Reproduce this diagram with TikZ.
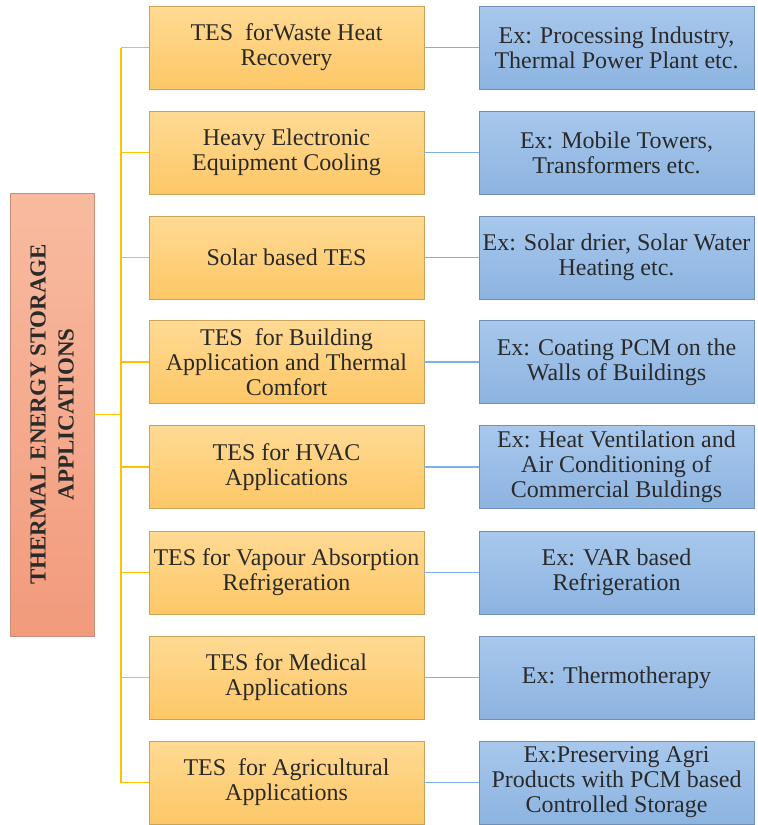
\documentclass[tikz,border=0pt]{standalone}
\usepackage{fontspec}
\setmainfont{Liberation Serif}
\newfontfamily\boxfont{Liberation Serif}
\usetikzlibrary{positioning}
\definecolor{orfillT}{HTML}{FFDA94}
\definecolor{orfillB}{HTML}{FDC766}
\definecolor{ordraw}{HTML}{C9A35A}
\definecolor{blfillT}{HTML}{A8C8EC}
\definecolor{blfillB}{HTML}{8CB3E0}
\definecolor{bldraw}{HTML}{6F8FB8}
\definecolor{rootT}{HTML}{F8BBA0}
\definecolor{rootB}{HTML}{F29A7C}
\definecolor{rootdraw}{HTML}{C8907A}
\definecolor{trunk}{HTML}{FFC000}
\definecolor{bline}{HTML}{7EB2E4}
\definecolor{txt}{HTML}{2A2A2A}
\tikzset{
  appbox/.style={rectangle, draw=ordraw, line width=0.8pt, top color=orfillT, bottom color=orfillB,
    minimum width=275pt, minimum height=83pt, inner sep=0pt, align=center,
    font=\boxfont\fontsize{24}{25}\selectfont, text=txt},
  exbox/.style={rectangle, draw=bldraw, line width=0.8pt, top color=blfillT, bottom color=blfillB,
    minimum width=275pt, minimum height=83pt, inner sep=0pt, align=center,
    font=\boxfont\fontsize{24}{25}\selectfont, text=txt},
  rootbox/.style={rectangle, draw=rootdraw, line width=0.8pt, top color=rootT, bottom color=rootB,
    minimum width=84pt, minimum height=443pt, inner sep=0pt},
  roottext/.style={rotate=90, align=center, font=\boxfont\bfseries\fontsize{23}{28}\selectfont, text=txt},
  ylink/.style={draw=trunk, line width=1.8pt},
  blink/.style={draw=bline, line width=1.8pt}
}
\begin{document}
\begin{tikzpicture}[x=1pt,y=-1pt]
\useasboundingbox (0,0) rectangle (758,825);
\node[rootbox] (root) at (52,414.5) {};
\node[roottext] (rootlabel) at (root.center) {THERMAL ENERGY STORAGE\\APPLICATIONS};
\coordinate (trunktop) at (121,47.5);
\coordinate (trunkbot) at (121,782.5);
\coordinate (trunkmid) at (121,414.5);
\draw[ylink] (trunktop) -- (trunkbot);
\draw[ylink] (root.east) -- (trunkmid);
\foreach \i/\y/\a/\b in {
 1/47.5/{TES\ \ forWaste Heat\\Recovery}/{Ex: Processing Industry,\\Thermal Power Plant etc.},
 2/152.5/{Heavy Electronic\\Equipment Cooling}/{Ex: Mobile Towers,\\Transformers etc.},
 3/257.5/{Solar based TES}/{Ex: Solar drier, Solar Water\\Heating etc.},
 4/362/{TES\ \ for Building\\Application and Thermal\\Comfort}/{Ex: Coating PCM on the\\Walls of Buildings},
 5/467/{TES for HVAC\\Applications}/{Ex: Heat Ventilation and\\Air Conditioning of\\Commercial Buldings},
 6/572.5/{TES for Vapour Absorption\\Refrigeration}/{Ex: VAR based\\Refrigeration},
 7/677.5/{TES for Medical\\Applications}/{Ex: Thermotherapy},
 8/782.5/{TES\ \ for Agricultural\\Applications}/{Ex:Preserving Agri\\Products with PCM based\\Controlled Storage}}{
  \node[appbox] (app\i) at (286.5,\y) {\a};
  \node[exbox] (ex\i) at (616.5,\y) {\b};
  \coordinate (tap\i) at (121,\y);
  \draw[ylink] (tap\i) -- (app\i.west);
  \draw[blink] (app\i.east) -- (ex\i.west);
}
\end{tikzpicture}
\end{document}
